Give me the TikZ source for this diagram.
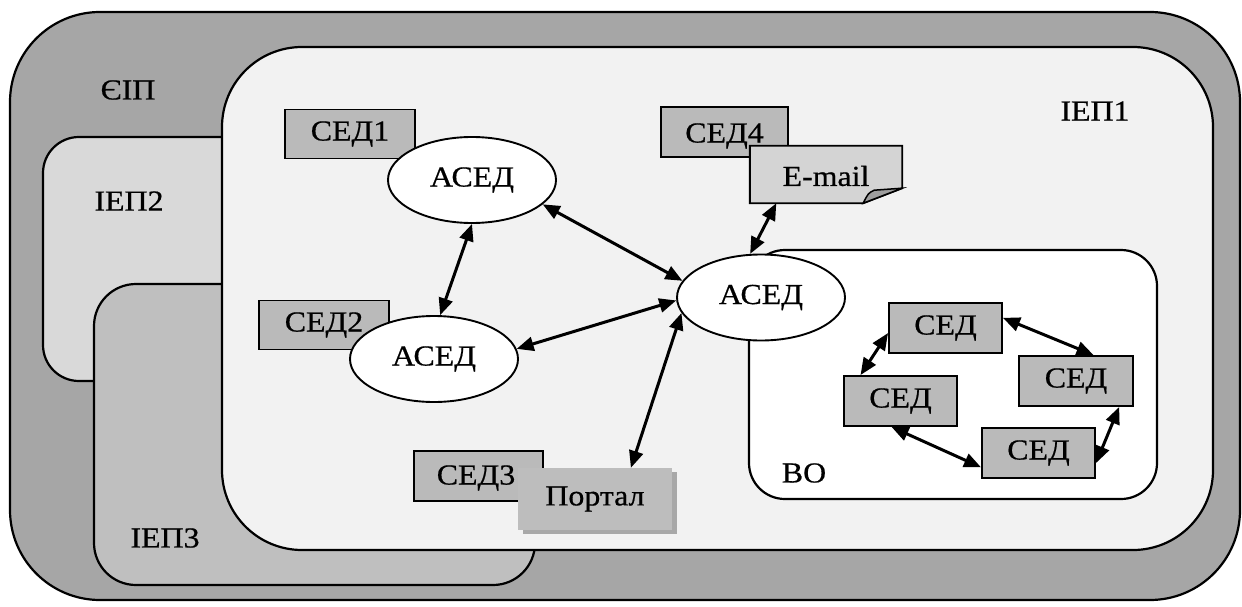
\documentclass[tikz,border=0pt]{standalone}
\usepackage{fontspec}
\setmainfont{Liberation Serif}[FakeStretch=1.1,FakeBold=0.6]
\usetikzlibrary{arrows.meta,shapes.geometric}
\definecolor{cEIP}{gray}{0.65}
\definecolor{cIEPa}{gray}{0.95}
\definecolor{cIEPb}{gray}{0.85}
\definecolor{cIEPc}{gray}{0.75}
\definecolor{cSED}{gray}{0.73}
\definecolor{cMail}{gray}{0.83}
\definecolor{cPort}{gray}{0.74}
\definecolor{cShadow}{gray}{0.66}
\definecolor{cFold}{gray}{0.62}
\tikzset{
  region/.style={draw=black, line width=2.2pt},
  sedbox/.style={draw=black, line width=1.9pt, fill=cSED, rectangle, inner sep=0pt},
  asedell/.style={draw=black, line width=1.9pt, fill=white, ellipse, inner sep=0pt,
    minimum width=168pt, minimum height=86pt},
  lbl/.style={inner sep=0pt},
  tip/.tip={Triangle[length=17pt,width=14pt]},
  link/.style={line width=3pt, tip-tip},
}
\begin{document}
\begin{tikzpicture}[x=1pt,y=-1pt,font=\fontsize{29}{32}\selectfont]
\useasboundingbox (0,0) rectangle (1242,607);
\fill[white] (0,0) rectangle (1242,607);
% regions
\draw[region, fill=cEIP, rounded corners=90pt] (10,12) rectangle (1240,600);
\draw[region, fill=cIEPb, rounded corners=36pt] (43,137) rectangle (400,381);
\draw[region, fill=cIEPc, rounded corners=42pt] (94,284) rectangle (535,585);
\draw[region, fill=cIEPa, rounded corners=80pt] (222,47) rectangle (1213,550);
\draw[region, fill=white, rounded corners=36pt] (749,250) rectangle (1157,499);
% labels of regions
\node[lbl] (lEIP) at (128,90) {ЄІП};
\node[lbl] (lIEP2) at (129,201) {ІЕП2};
\node[lbl] (lIEP3) at (165,538) {ІЕП3};
\node[lbl] (lIEP1) at (1095,111) {ІЕП1};
\node[lbl] (lBO) at (804,473) {ВО};
% SED + ASED groups
\node[sedbox, minimum width=130pt, minimum height=49pt] (sed1) at (350,134) {СЕД1};
\node[asedell] (a1) at (472,180) {АСЕД};
\node[sedbox, minimum width=130pt, minimum height=49pt] (sed2) at (324,325) {СЕД2};
\node[asedell] (a2) at (434,359) {АСЕД};
\node[sedbox, minimum width=127pt, minimum height=50pt] (sed4) at (724.5,132) {};
\node[lbl] (sed4t) at (724.5,136) {СЕД4};
% E-mail (folded note)
\node[lbl, minimum width=152pt, minimum height=57pt] (mail) at (826,174.5) {};
\draw[line width=1.9pt, fill=cMail] (mail.north west) -- (mail.north east) -- ([yshift=15pt]mail.south east) -- ([xshift=-39pt]mail.south east) -- (mail.south west) -- cycle;
\draw[line width=1.5pt, fill=cFold] ([xshift=-39pt]mail.south east) .. controls ([xshift=-34pt,yshift=10pt]mail.south east) .. ([xshift=-28pt,yshift=13pt]mail.south east) -- ([yshift=15pt]mail.south east) -- cycle;
\node[lbl] (mailtext) at (826,176) {E-mail};
% SED3 + Portal
\node[sedbox, minimum width=129pt, minimum height=50pt] (sed3) at (478.5,476) {};
\node[lbl] (sed3t) at (476,478) {СЕД3};
\fill[cShadow] (523,472) rectangle (677,534);
\node[rectangle, fill=cPort, minimum width=154pt, minimum height=62pt, inner sep=0pt] (port) at (595,499) {Портал};
% central ASED
\node[asedell] (ac) at (761,297.5) {АСЕД};
% SED nodes inside BO
\node[sedbox, minimum width=113pt, minimum height=50pt] (sA) at (945.5,328) {СЕД};
\node[sedbox, minimum width=114pt, minimum height=50pt] (sB) at (1076,381) {СЕД};
\node[sedbox, minimum width=113pt, minimum height=50pt] (sC) at (900.5,401) {СЕД};
\node[sedbox, minimum width=113pt, minimum height=50pt] (sD) at (1038.5,453) {СЕД};
% connectors
\draw[link] (a1.-90) -- (a2.82);
\draw[link] (a1.-19) -- (ac.168);
\draw[link] (a2.7) -- (ac.182);
\draw[link] (ac.191) -- (port.41);
\draw[link] (ac.104) -- (mail.210);
\draw[link] (sA.185) -- (sC.147);
\draw[link] (sA.10) -- (sB.56);
\draw[link] (sC.251) -- (sD.194);
\draw[link] (sD.350) -- (sB.329);
\end{tikzpicture}
\end{document}
